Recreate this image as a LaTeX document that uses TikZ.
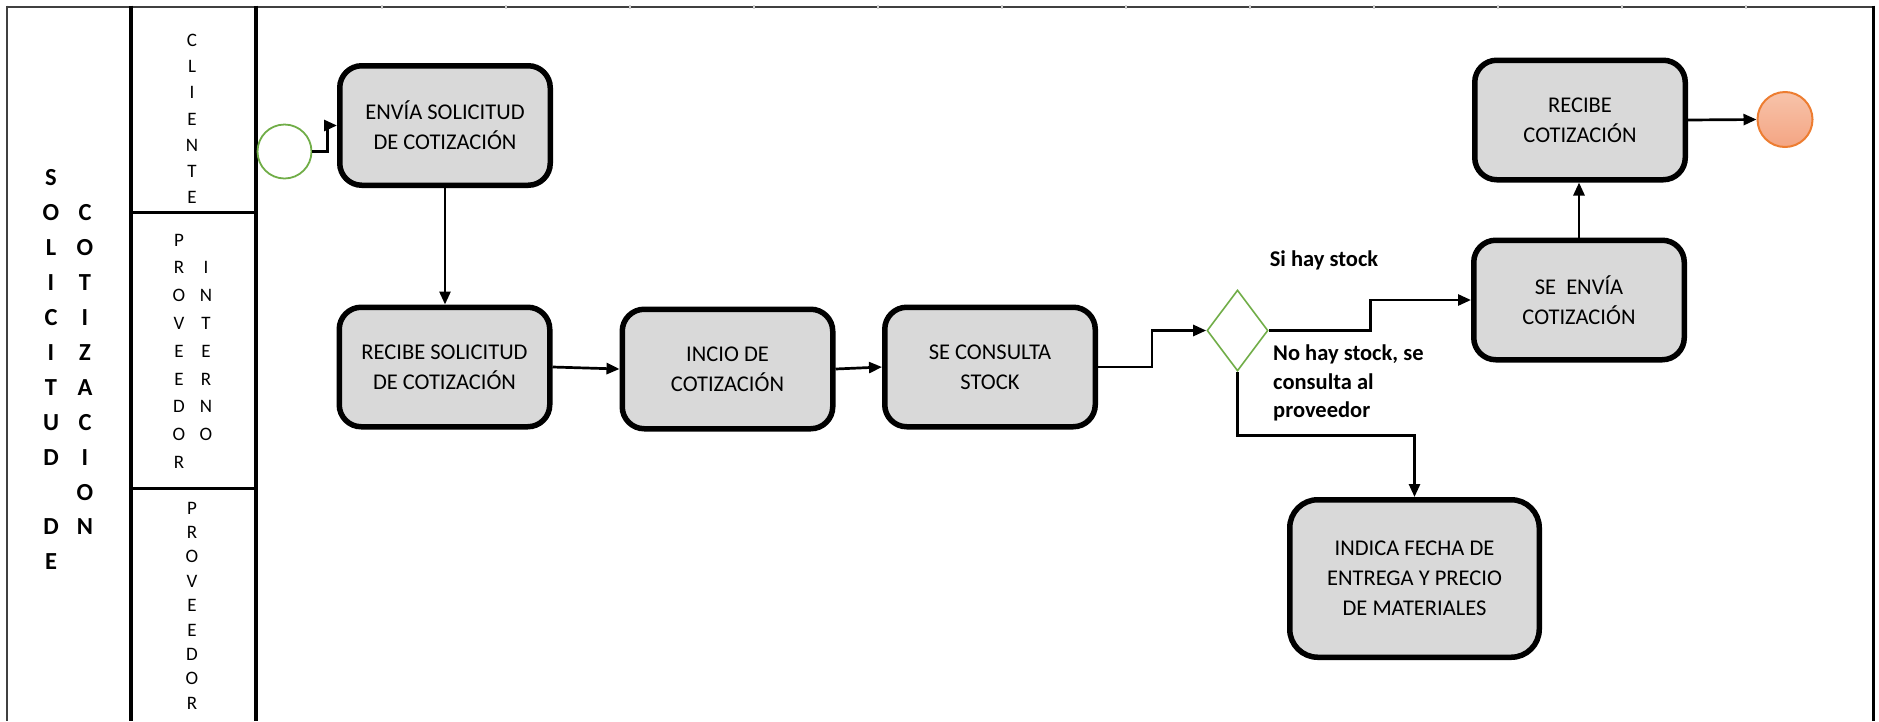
\documentclass[tikz,border=0pt]{standalone}
\usepackage{fontspec}
\setmainfont{Carlito}
\usetikzlibrary{arrows.meta,shapes.geometric}

\definecolor{taskfill}{HTML}{D9D9D9}
\definecolor{gatewaygreen}{HTML}{70AD47}
\definecolor{endline}{HTML}{ED7D31}
\definecolor{endtop}{HTML}{F7C3AA}
\definecolor{endbottom}{HTML}{F4A583}
\definecolor{framegray}{HTML}{404040}

\tikzset{
  task/.style={draw=black, line width=5.5pt, fill=taskfill, rounded corners=22pt,
    minimum width=210.5pt, minimum height=119.5pt, inner sep=0pt, align=center,
    font=\fontsize{22.5}{30}\selectfont},
  flow/.style={draw=black, line width=2.7pt, -{Triangle[length=13pt,width=11pt]}},
  lanechar/.style={inner sep=0pt, font=\fontsize{19}{19}\selectfont},
  poolchar/.style={inner sep=0pt, font=\fontsize{24.5}{24.5}\selectfont\bfseries},
  note/.style={inner sep=0pt, font=\fontsize{22.5}{28.5}\selectfont\bfseries},
  frame/.style={draw=black, line width=3.5pt},
}

\begin{document}
\begin{tikzpicture}[x=1pt,y=-1pt]
\useasboundingbox (0,0) rectangle (1879,721);

% pool frame and lane dividers
\draw[framegray, line width=2pt] (7,6.5) -- (1873,6.5);
\foreach \gx in {382,506,630,754,878,1002,1126,1250,1374,1498,1622,1746}
  \draw[gray!35, line width=1.5pt] (\gx,5) -- (\gx,8.5);
\draw[framegray, line width=2pt] (7,5.5) -- (7,721);
\draw[frame] (131,5.5) -- (131,721);
\draw[frame] (256,5.5) -- (256,721);
\draw[draw=black, line width=3pt] (1873,5.5) -- (1873,721);
\draw[frame] (131,212.5) -- (256,212.5);
\draw[frame] (131,488.5) -- (256,488.5);

% pool title
\foreach \c [count=\k from 0] in {S,O,L,I,C,I,T,U,D}
  \node[poolchar] (sol\k) at (51,178+34.9*\k) {\c};
\foreach \c [count=\k from 10] in {D,E}
  \node[poolchar] (de\k) at (51,178+34.9*\k) {\c};
\foreach \c [count=\k from 1] in {C,O,T,I,Z,A,C,I,O,N}
  \node[poolchar] (cot\k) at (85,178+34.9*\k) {\c};

% lane titles
\foreach \c [count=\k from 0] in {C,L,I,E,N,T,E}
  \node[lanechar] (cli\k) at (192,40+26.3*\k) {\c};
\foreach \c [count=\k from 0] in {P,R,O,V,E,E,D,O,R}
  \node[lanechar] (pin\k) at (179,240+27.8*\k) {\c};
\foreach \c [count=\k from 1] in {I,N,T,E,R,N,O}
  \node[lanechar] (int\k) at (206,240+27.8*\k) {\c};
\foreach \c [count=\k from 0] in {P,R,O,V,E,E,D,O,R}
  \node[lanechar] (pro\k) at (192,508+24.4*\k) {\c};

% events and gateway
\node[circle, draw=gatewaygreen, line width=1.8pt, fill=white, minimum size=54pt, inner sep=0pt] (start) at (284.5,151.5) {};
\node[circle, draw=endline, line width=2pt, top color=endtop, bottom color=endbottom, minimum size=55pt, inner sep=0pt] (end) at (1785,119.5) {};
\node[diamond, draw=gatewaygreen, line width=1.6pt, fill=white, minimum width=61pt, minimum height=81pt, inner sep=0pt] (gate) at (1237.5,330.5) {};

% tasks
\node[task] (envia) at (445,125.5) {ENVÍA SOLICITUD\\DE COTIZACIÓN};
\node[task] (recsol) at (444.5,367) {RECIBE SOLICITUD\\DE COTIZACIÓN};
\node[task] (inicio) at (727.5,369) {INCIO DE\\COTIZACIÓN};
\node[task] (consulta) at (990,367) {SE CONSULTA\\STOCK};
\node[task] (envcot) at (1579,300) {SE\ \ ENVÍA\\COTIZACIÓN};
\node[task] (reccot) at (1580,120) {RECIBE\\COTIZACIÓN};
\node[task, minimum width=249.5pt, minimum height=157.5pt, rounded corners=28pt] (indica) at (1414.5,578.5) {INDICA FECHA DE\\ENTREGA Y PRECIO\\DE MATERIALES};

% gateway conditions
\node[note] (sihay) at (1324,260) {Si hay stock};
\node[note, anchor=west, align=left] (nohay) at (1273,383) {No hay stock, se\\consulta al\\proveedor};

% sequence flows
\draw[flow] (start.east) -- ++(15,0) |- (envia.west);
\draw[flow] (envia.south) -- (envia.south |- recsol.north);
\draw[flow] (recsol.east) -- (inicio.west);
\draw[flow] (inicio.east) -- (consulta.west);
\draw[flow] (consulta.east) -- ++(54,0) |- (gate.west);
\draw[flow] (gate.east) -- ++(102,0) |- (envcot.west);
\draw[flow] (gate.south) -- ++(0,64) -| (indica.north);
\draw[flow] (envcot.north) -- (envcot.north |- reccot.south);
\draw[flow] (reccot.east) -- (end.west);
\end{tikzpicture}
\end{document}
